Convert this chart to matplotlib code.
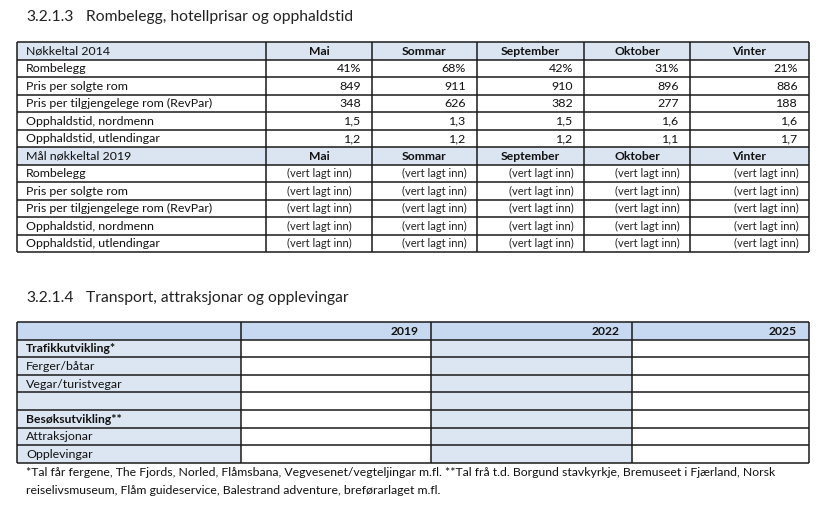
import matplotlib
matplotlib.use("Agg")
import matplotlib.pyplot as plt
from matplotlib.patches import Rectangle
from matplotlib.font_manager import FontProperties
from matplotlib.textpath import TextPath

# ---------------- data ----------------
title1 = "3.2.1.3"
title1_text = "Rombelegg, hotellprisar og opphaldstid"
seasons = ["Mai", "Sommar", "September", "Oktober", "Vinter"]
header_2014 = "Nøkkeltal 2014"
header_2019 = "Mål nøkkeltal 2019"
metrics = ["Rombelegg", "Pris per solgte rom", "Pris per tilgjengelege rom (RevPar)",
           "Opphaldstid, nordmenn", "Opphaldstid, utlendingar"]
rombelegg = ["41%", "68%", "42%", "31%", "21%"]
pris_solgt = ["849", "911", "910", "896", "886"]
revpar = ["348", "626", "382", "277", "188"]
opph_nord = ["1,5", "1,3", "1,5", "1,6", "1,6"]
opph_utl = ["1,2", "1,2", "1,2", "1,1", "1,7"]
placeholder = "(vert lagt inn)"

title2 = "3.2.1.4"
title2_text = "Transport, attraksjonar og opplevingar"
years = ["2019", "2022", "2025"]
rows2 = ["Trafikkutvikling*", "Ferger/båtar", "Vegar/turistvegar", "",
         "Besøksutvikling**", "Attraksjonar", "Opplevingar"]
bold_rows2 = ["Trafikkutvikling*", "Besøksutvikling**"]
footnote1 = ("*Tal får fergene, The Fjords, Norled, Flåmsbana, Vegvesenet/vegteljingar m.fl. "
             "**Tal frå t.d. Borgund stavkyrkje, Bremuseet i Fjærland, Norsk")
footnote2 = "reiselivsmuseum, Flåm guideservice, Balestrand adventure, breførarlaget m.fl."

# ---------------- layout ----------------
W, H, DPI = 832, 512, 100
FAM = "Lato"
fig = plt.figure(figsize=(W / DPI, H / DPI), dpi=DPI)
ax = fig.add_axes([0, 0, 1, 1])
ax.set_xlim(0, W)
ax.set_ylim(H, 0)
ax.axis("off")


def fit(s, target_px, weight="normal"):
    fp = FontProperties(family=FAM, weight=weight)
    w = TextPath((0, 0), s, size=100, prop=fp).get_extents().width
    return target_px * 100 * 72 / (w * DPI)


fs_title = fit(title1_text, 264)
fs_body = fit("Pris per tilgjengelege rom (RevPar)", 186)
fs_bold = fit("September", 59, "bold")
fs_ph = fit(placeholder, 63)
fs_foot = fit(footnote1, 752)

HDR1 = "#dbe5f1"
HDR2 = "#c6d9f1"
LIGHT = "#dce6f2"
LINE = "#1a1a1a"

# titles
ax.text(26, 17, title1, fontsize=fs_title, family=FAM, va="center", ha="left", color="#222222")
ax.text(86, 17, title1_text, fontsize=fs_title, family=FAM, va="center", ha="left", color="#222222")
ax.text(26, 298, title2, fontsize=fs_title, family=FAM, va="center", ha="left", color="#222222")
ax.text(86, 298, title2_text, fontsize=fs_title, family=FAM, va="center", ha="left", color="#222222")

# ---------------- table 1 ----------------
cols1 = [17, 266, 372, 477, 584, 690, 809]
top1, rh1 = 42, 17.5
values_2014 = [rombelegg, pris_solgt, revpar, opph_nord, opph_utl]
rows_t1 = [("hdr", header_2014)] + [("val", m) for m in metrics] + \
          [("hdr", header_2019)] + [("ph", m) for m in metrics]
vi = 0
for r, (kind, label) in enumerate(rows_t1):
    y0 = top1 + r * rh1
    yc = y0 + rh1 / 2 + 0.5
    if kind == "hdr":
        ax.add_patch(Rectangle((cols1[0], y0), cols1[-1] - cols1[0], rh1, facecolor=HDR1, edgecolor="none"))
    ax.text(cols1[0] + 9, yc, label, fontsize=fs_body, family=FAM, va="center", ha="left", color="#111111")
    for c in range(5):
        xl, xr = cols1[c + 1], cols1[c + 2]
        if kind == "hdr":
            ax.text((xl + xr) / 2, yc, seasons[c], fontsize=fs_bold, family=FAM, weight="bold",
                    va="center", ha="center", color="#111111")
        elif kind == "val":
            ax.text(xr - 11, yc, values_2014[r - 1][c], fontsize=fs_body, family=FAM,
                    va="center", ha="right", color="#111111")
        else:
            pad = 20 if c == 0 else 10
            ax.text(xr - pad, yc, placeholder, fontsize=fs_ph, family=FAM,
                    va="center", ha="right", color="#222222")
nrows1 = len(rows_t1)
for r in range(nrows1 + 1):
    y = top1 + r * rh1
    ax.plot([cols1[0], cols1[-1]], [y, y], color=LINE, lw=1.1, solid_capstyle="butt")
for x in cols1:
    ax.plot([x, x], [top1, top1 + nrows1 * rh1], color=LINE, lw=1.1, solid_capstyle="butt")

# ---------------- table 2 ----------------
cols2 = [17, 241, 431, 632, 809]
top2, rh2 = 322, 17.6
n2 = len(rows2) + 1
# header row
ax.add_patch(Rectangle((cols2[0], top2), cols2[-1] - cols2[0], rh2, facecolor=HDR2, edgecolor="none"))
# first column and 2022 column
ax.add_patch(Rectangle((cols2[0], top2 + rh2), cols2[1] - cols2[0], rh2 * (n2 - 1), facecolor=LIGHT, edgecolor="none"))
ax.add_patch(Rectangle((cols2[2], top2 + rh2), cols2[3] - cols2[2], rh2 * (n2 - 1), facecolor=LIGHT, edgecolor="none"))
for c, yr in enumerate(years):
    ax.text(cols2[c + 2] - 12, top2 + rh2 / 2 + 0.5, yr, fontsize=fs_bold, family=FAM, weight="bold",
            va="center", ha="right", color="#111111")
for r, lab in enumerate(rows2):
    yc = top2 + (r + 1) * rh2 + rh2 / 2 + 0.5
    bold = lab in bold_rows2
    ax.text(cols2[0] + 9, yc, lab, fontsize=fs_bold if bold else fs_body, family=FAM,
            weight="bold" if bold else "normal", va="center", ha="left", color="#111111")
for r in range(n2 + 1):
    y = top2 + r * rh2
    ax.plot([cols2[0], cols2[-1]], [y, y], color=LINE, lw=1.1, solid_capstyle="butt")
for x in cols2:
    ax.plot([x, x], [top2, top2 + n2 * rh2], color=LINE, lw=1.1, solid_capstyle="butt")

# footnotes
ax.text(26, 472, footnote1, fontsize=fs_foot, family=FAM, va="center", ha="left", color="#111111")
ax.text(26, 491, footnote2, fontsize=fs_foot, family=FAM, va="center", ha="left", color="#111111")

fig.savefig("out.png", dpi=DPI, facecolor="white")
